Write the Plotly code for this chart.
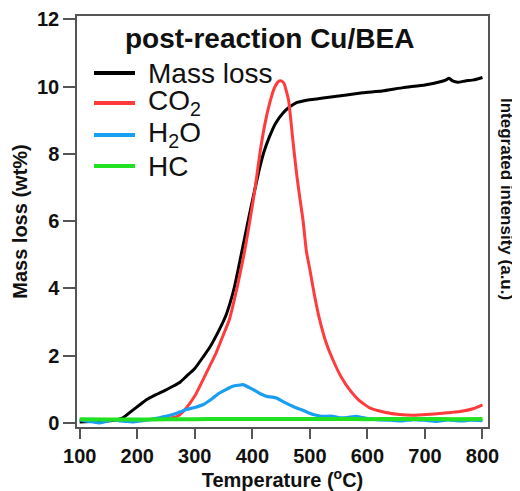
import plotly.graph_objects as go

# ---------------- data ----------------
mass_T = [100, 120, 140, 160, 175, 190, 205, 216, 230, 245, 262, 275, 285, 300, 314, 325, 338, 353,
          361, 369, 380, 392, 400, 412, 420, 430, 440, 453, 465, 476, 490, 500, 523, 550, 592, 626,
          662, 700, 730, 737, 742, 748, 757, 770, 785, 800]
mass_loss = [0.03, 0.04, 0.05, 0.08, 0.15, 0.35, 0.55, 0.69, 0.82, 0.94, 1.09, 1.22, 1.38, 1.62, 1.95,
             2.22, 2.62, 3.15, 3.55, 4.05, 4.95, 5.95, 6.6, 7.53, 8.05, 8.52, 8.9, 9.21, 9.4, 9.52, 9.58,
             9.61, 9.66, 9.72, 9.82, 9.87, 9.97, 10.05, 10.16, 10.2, 10.25, 10.17, 10.13, 10.17, 10.2, 10.27]

co2_T = [100, 150, 200, 250, 270, 283, 300, 317, 337, 348, 360, 374, 386, 396, 405, 413, 422,
         430, 438, 445, 450, 455, 463, 471, 477, 483, 488, 494, 500, 508, 517, 528, 540, 555, 569,
         585, 604, 630, 656, 680, 703, 730, 761, 785, 800]
co2 = [0.1, 0.1, 0.1, 0.12, 0.2, 0.4, 0.8, 1.38, 2.08, 2.55, 3.07, 4.06, 5.05, 6.04, 7.0, 8.0,
       8.9, 9.5, 9.95, 10.15, 10.17, 10.1, 9.6, 8.32, 7.4, 6.64, 6.04, 5.1, 4.56, 3.8, 3.07, 2.4, 1.88,
       1.35, 0.99, 0.68, 0.45, 0.32, 0.25, 0.23, 0.25, 0.29, 0.34, 0.43, 0.54]

h2o_T = [100, 110, 120, 135, 150, 158, 170, 180, 193, 205, 215, 228, 240, 250, 262, 275, 285, 300,
         314, 330, 343, 355, 366, 375, 384, 395, 407, 415, 425, 435, 442, 455, 471, 490, 506, 520,
         540, 552, 565, 581, 600, 616, 640, 660, 680, 700, 720, 740, 760, 780, 800]
h2o = [0.1, 0.06, 0.04, 0.0, 0.06, 0.1, 0.06, 0.05, 0.03, 0.06, 0.08, 0.12, 0.16, 0.2, 0.25, 0.33,
       0.4, 0.46, 0.54, 0.72, 0.89, 1.0, 1.09, 1.12, 1.14, 1.05, 0.94, 0.86, 0.79, 0.77, 0.74, 0.62,
       0.49, 0.36, 0.25, 0.2, 0.2, 0.15, 0.16, 0.2, 0.13, 0.1, 0.08, 0.06, 0.1, 0.08, 0.05, 0.09,
       0.06, 0.08, 0.07]

hc_T = [100, 150, 200, 250, 300, 350, 400, 450, 500, 550, 600, 650, 700, 750, 800]
hc = [0.11, 0.1, 0.1, 0.11, 0.11, 0.12, 0.12, 0.12, 0.12, 0.12, 0.11, 0.12, 0.12, 0.11, 0.12]

series_names = ["Mass loss", "CO<sub>2</sub>", "H<sub>2</sub>O", "HC"]
x_ticks = [100, 200, 300, 400, 500, 600, 700, 800]
y_ticks = [0, 2, 4, 6, 8, 10, 12]

title_text = "post-reaction Cu/BEA"
x_title = "Temperature (<sup>o</sup>C)"
y_title = "Mass loss (wt%)"
y2_title = "Integrated intensity (a.u.)"

# ---------------- style ----------------
colors = ["#000000", "#FF3B3B", "#1A9EF2", "#22E022"]
widths = [3, 3, 3.2, 4]
FONT = "Liberation Sans, Arial, Helvetica, sans-serif"
AX = "#555555"

# the page adds an 8px body margin, so the figure is laid out 8px smaller/offset
OFF = 8
W, H = 520 - OFF, 491 - OFF
L, R, T, B = 77 - OFF, 32, 16 - OFF, 64
pw, ph = W - L - R, H - T - B


def px2paper(x, y):
    """page pixel -> paper coords"""
    x -= OFF
    y -= OFF
    return (x - L) / pw, (H - B - y) / ph


fig = go.Figure()
for name, xs, ys, c, w in zip(series_names, [mass_T, co2_T, h2o_T, hc_T],
                              [mass_loss, co2, h2o, hc], colors, widths):
    fig.add_trace(go.Scatter(x=xs, y=ys, mode="lines", name=name,
                             line=dict(color=c, width=w, shape="spline", smoothing=0.4),
                             showlegend=False))

# manual legend (sample line + label) placed like the reference
row_y = [73, 103, 135, 166]
for name, c, ry in zip(series_names, colors, row_y):
    x0, yy = px2paper(94, ry)
    x1, _ = px2paper(135, ry)
    fig.add_shape(type="line", xref="paper", yref="paper", x0=x0, x1=x1, y0=yy, y1=yy,
                  line=dict(color=c, width=4))
    tx, _ = px2paper(146, ry)
    fig.add_annotation(xref="paper", yref="paper", x=tx, y=yy, text=name, showarrow=False,
                       xanchor="left", yanchor="middle", font=dict(family=FONT, size=28, color="#111"))

# title inside the plot
tx, ty = px2paper(269, 38)
fig.add_annotation(xref="paper", yref="paper", x=tx, y=ty, text="<b>%s</b>" % title_text,
                   showarrow=False, xanchor="center", yanchor="middle",
                   font=dict(family=FONT, size=28, color="#111"))

# right axis title (reads top-to-bottom)
rx, ry = px2paper(507, 199)
fig.add_annotation(xref="paper", yref="paper", x=rx, y=ry, text="<b>%s</b>" % y2_title,
                   showarrow=False, textangle=90, xanchor="center", yanchor="middle",
                   font=dict(family=FONT, size=17, color="#111"))

fig.update_layout(
    width=W, height=H,
    margin=dict(l=L, r=R, t=T, b=B, pad=0, autoexpand=False),
    paper_bgcolor="white", plot_bgcolor="white",
    font=dict(family=FONT, color="#111"),
    xaxis=dict(range=[95.3, 809.6], tickvals=x_ticks, ticktext=["<b>%d</b>" % v for v in x_ticks],
               ticks="outside", ticklen=10, tickwidth=1.5, tickcolor=AX, automargin=True,
               showline=True, linecolor=AX, linewidth=1.5, mirror=True,
               showgrid=False, zeroline=False, tickfont=dict(size=20, family=FONT, color="#111"),
               title=dict(text="<b>%s</b>" % x_title, font=dict(size=20, family=FONT, color="#111"),
                          standoff=6)),
    yaxis=dict(range=[-0.12, 12.1], tickvals=y_ticks, ticktext=["<b>%d</b>" % v for v in y_ticks],
               ticks="outside", ticklen=12, tickwidth=1.5, tickcolor=AX, automargin=True,
               showline=True, linecolor=AX, linewidth=1.5, mirror=True,
               showgrid=False, zeroline=False, tickfont=dict(size=20, family=FONT, color="#111"),
               title=dict(text="<b>%s</b>" % y_title, font=dict(size=20, family=FONT, color="#111"),
                          standoff=4)),
)

fig.write_html("out.html")
